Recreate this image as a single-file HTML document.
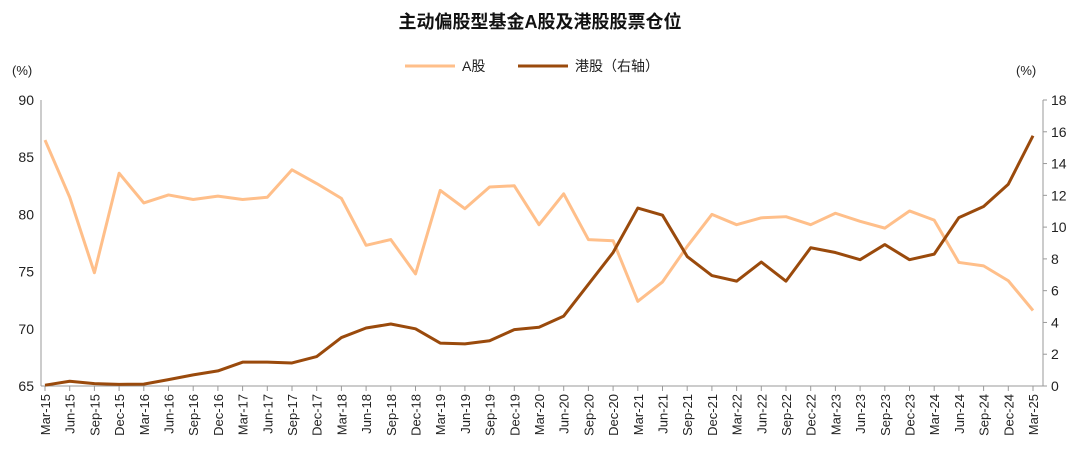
<!DOCTYPE html>
<html><head><meta charset="utf-8"><style>
body{margin:0;background:#fff;font-family:"Liberation Sans","Noto Sans CJK SC",sans-serif;}
svg text{font-family:"Liberation Sans","Noto Sans CJK SC",sans-serif;}
</style></head><body>
<svg id="c" width="1080" height="457">
<text x="540" y="28" text-anchor="middle" font-size="18" font-weight="bold" fill="#111">主动偏股型基金A股及港股股票仓位</text>
<g>
<line x1="405" y1="66" x2="455" y2="66" stroke="#FFBF8A" stroke-width="3"/>
<text x="462" y="71" font-size="14" fill="#222">A股</text>
<line x1="518" y1="66" x2="568" y2="66" stroke="#9A4A0C" stroke-width="3"/>
<text x="575" y="71" font-size="14" fill="#222">港股（右轴）</text>
</g>
<text x="12" y="75" font-size="13" fill="#222">(%)</text>
<text x="1016" y="75" font-size="13" fill="#222">(%)</text>
<g id="axes"></g>
<g id="marks"></g>
</svg>
<script>
const categories=["Mar-15","Jun-15","Sep-15","Dec-15","Mar-16","Jun-16","Sep-16","Dec-16","Mar-17","Jun-17","Sep-17","Dec-17","Mar-18","Jun-18","Sep-18","Dec-18","Mar-19","Jun-19","Sep-19","Dec-19","Mar-20","Jun-20","Sep-20","Dec-20","Mar-21","Jun-21","Sep-21","Dec-21","Mar-22","Jun-22","Sep-22","Dec-22","Mar-23","Jun-23","Sep-23","Dec-23","Mar-24","Jun-24","Sep-24","Dec-24","Mar-25"];
const aShare=[86.5,81.5,74.9,83.6,81.0,81.7,81.3,81.6,81.3,81.5,83.9,82.7,81.4,77.3,77.8,74.8,82.1,80.5,82.4,82.5,79.1,81.8,77.8,77.7,72.4,74.1,77.2,80.0,79.1,79.7,79.8,79.1,80.1,79.4,78.8,80.3,79.5,75.8,75.5,74.2,71.6];
const hkShare=[0.05,0.3,0.15,0.1,0.12,0.4,0.7,0.95,1.5,1.5,1.45,1.85,3.05,3.65,3.9,3.6,2.7,2.65,2.85,3.55,3.7,4.4,6.4,8.4,11.2,10.75,8.15,6.95,6.6,7.8,6.6,8.7,8.4,7.95,8.9,7.95,8.3,10.6,11.3,12.7,15.75];
const leftTicks=[65,70,75,80,85,90];
const rightTicks=[0,2,4,6,8,10,12,14,16,18];
const NS="http://www.w3.org/2000/svg";
const L=41,R=1043,T=100,B=386,X0=45,X1=1033;
const x=i=>X0+(X1-X0)*i/(categories.length-1);
const yL=v=>B-(v-65)/25*(B-T);
const yR=v=>B-v/18*(B-T);
const axes=document.getElementById('axes'),marks=document.getElementById('marks');
function mk(tag,attrs,parent,txt){const e=document.createElementNS(NS,tag);for(const k in attrs)e.setAttribute(k,attrs[k]);if(txt!==undefined)e.textContent=txt;parent.appendChild(e);return e;}
let e;
e=mk('line',{x1:L,y1:T,x2:L,y2:B,stroke:'#999'},axes);


e=mk('line',{x1:R,y1:T,x2:R,y2:B,stroke:'#999'},axes);


e=mk('line',{x1:L,y1:B,x2:R,y2:B,stroke:'#999'},axes);


leftTicks.forEach(v=>{
 e=mk('text',{x:L-7,y:yL(v)+5,'text-anchor':'end','font-size':14,fill:'#222'},axes,v);
 
 
});
rightTicks.forEach(v=>{
 mk('line',{x1:R,y1:yR(v),x2:R+4,y2:yR(v),stroke:'#999'},axes);
 e=mk('text',{x:R+8,y:yR(v)+5,'font-size':14,fill:'#222'},axes,v);
 
 
});
categories.forEach((c,i)=>{
 mk('line',{x1:x(i),y1:B,x2:x(i),y2:B+5,stroke:'#999'},axes);
 e=mk('text',{x:0,y:0,'text-anchor':'end','font-size':13,fill:'#222',transform:`translate(${x(i)+5},${B+8}) rotate(-90)`},axes,c);
 
 
});
e=mk('polyline',{points:aShare.map((v,i)=>x(i)+','+yL(v)).join(' '),fill:'none',stroke:'#FFBF8A','stroke-width':3,'stroke-linejoin':'round'},marks);


e=mk('polyline',{points:hkShare.map((v,i)=>x(i)+','+yR(v)).join(' '),fill:'none',stroke:'#9A4A0C','stroke-width':3,'stroke-linejoin':'round'},marks);


</script>
</body></html>
